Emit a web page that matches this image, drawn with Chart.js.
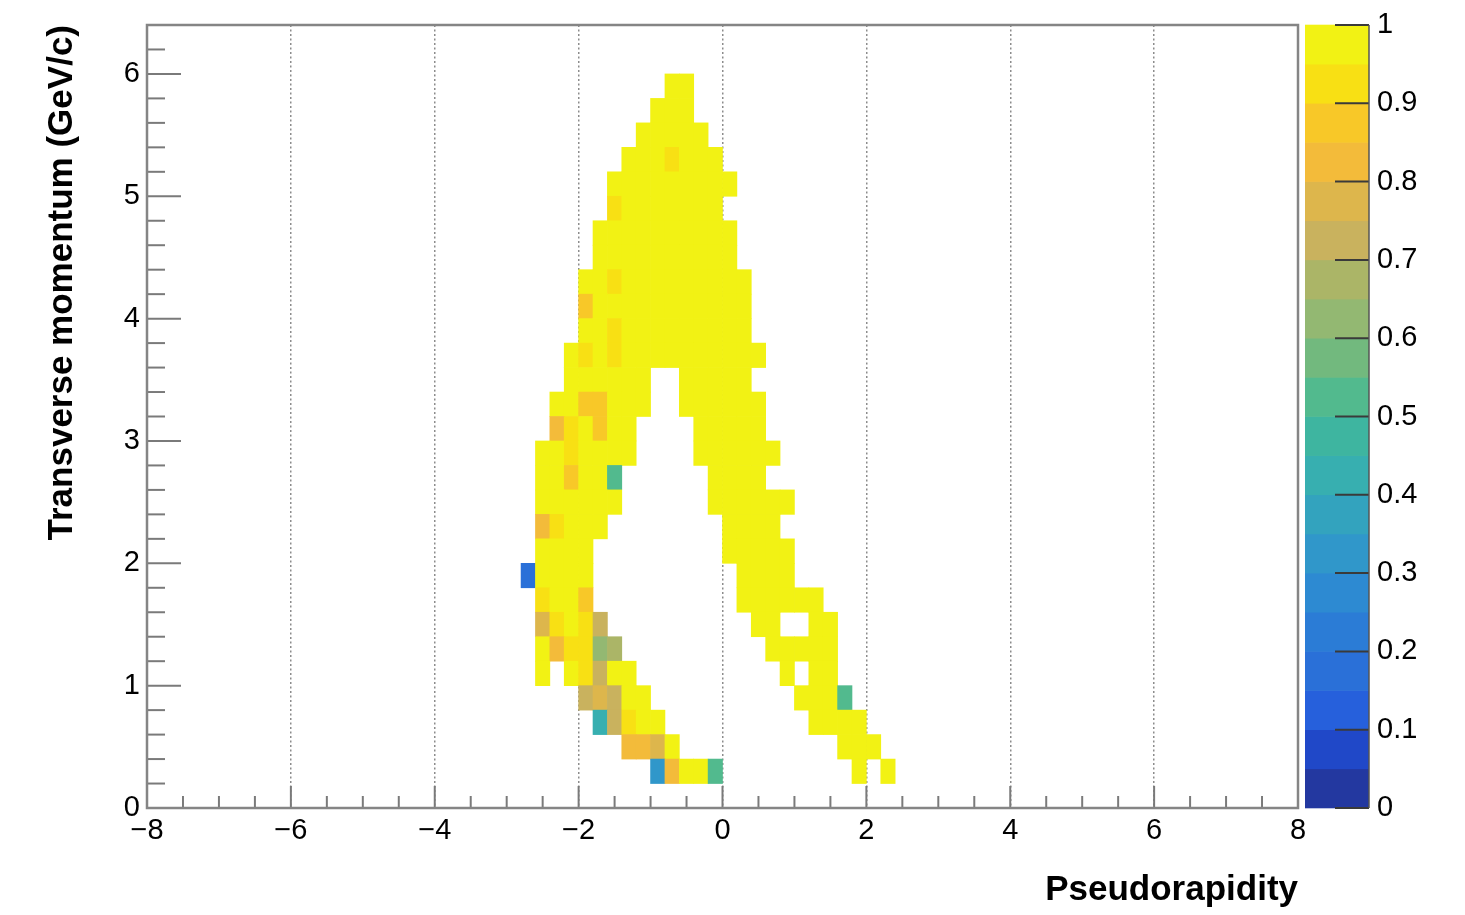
<!DOCTYPE html>
<html>
<head>
<meta charset="utf-8">
<title>Efficiency vs pseudorapidity and transverse momentum</title>
<script src="https://cdn.jsdelivr.net/npm/chart.js@4.4.1/dist/chart.umd.min.js"></script>
<style>
  html, body { margin: 0; padding: 0; background: #fff; }
  #wrap { position: relative; width: 1465px; height: 915px; }
</style>
</head>
<body>
<div id="wrap"><canvas id="effChart"></canvas></div>
<script>
const _ = null; // empty bin

// eta bin centres, 0.2 wide (-2.8 .. 2.4)
const etaCenters = [-2.7, -2.5, -2.3, -2.1, -1.9, -1.7, -1.5, -1.3, -1.1, -0.9, -0.7, -0.5, -0.3,
                    -0.1, 0.1, 0.3, 0.5, 0.7, 0.9, 1.1, 1.3, 1.5, 1.7, 1.9, 2.1, 2.3];

// lower pT edge of each row, rows are 0.2 GeV/c high
const ptLowEdges = [0.2, 0.4, 0.6, 0.8, 1.0, 1.2, 1.4, 1.6, 1.8, 2.0, 2.2, 2.4, 2.6, 2.8, 3.0,
                    3.2, 3.4, 3.6, 3.8, 4.0, 4.2, 4.4, 4.6, 4.8, 5.0, 5.2, 5.4, 5.6, 5.8];
const ptBinHeight = 0.2;

// efficiency per (pT row, eta column)
const efficiency = [
  [_,_,_,_,_,_,_,_,_,.32,.82,1,1,.52,_,_,_,_,_,_,_,_,_,1,_,1],        // 0.2
  [_,_,_,_,_,_,_,.82,.82,.77,1,_,_,_,_,_,_,_,_,_,_,_,1,1,1,_],        // 0.4
  [_,_,_,_,_,.42,.72,.93,1,1,_,_,_,_,_,_,_,_,_,_,1,1,1,1,_,_],        // 0.6
  [_,_,_,_,.72,.77,.72,1,1,_,_,_,_,_,_,_,_,_,_,1,1,1,.52,_,_,_],      // 0.8
  [_,1,_,1,.93,.72,1,1,_,_,_,_,_,_,_,_,_,_,1,_,1,1,_,_,_,_],          // 1.0
  [_,1,.82,.93,.93,.62,.67,_,_,_,_,_,_,_,_,_,_,1,1,1,1,1,_,_,_,_],    // 1.2
  [_,.77,.93,1,.93,.72,_,_,_,_,_,_,_,_,_,_,1,1,_,_,1,1,_,_,_,_],      // 1.4
  [_,.93,1,1,.87,_,_,_,_,_,_,_,_,_,_,1,1,1,1,1,1,_,_,_,_,_],          // 1.6
  [.17,1,1,1,1,_,_,_,_,_,_,_,_,_,_,1,1,1,1,_,_,_,_,_,_,_],            // 1.8
  [_,1,1,1,1,_,_,_,_,_,_,_,_,_,1,1,1,1,1,_,_,_,_,_,_,_],              // 2.0
  [_,.82,.93,1,1,1,_,_,_,_,_,_,_,_,1,1,1,1,_,_,_,_,_,_,_,_],          // 2.2
  [_,1,1,1,1,1,1,_,_,_,_,_,_,1,1,1,1,1,1,_,_,_,_,_,_,_],              // 2.4
  [_,1,1,.87,1,1,.52,_,_,_,_,_,_,1,1,1,1,_,_,_,_,_,_,_,_,_],          // 2.6
  [_,1,1,.93,1,1,1,1,_,_,_,_,1,1,1,1,1,1,_,_,_,_,_,_,_,_],            // 2.8
  [_,_,.82,.93,1,.87,1,1,_,_,_,_,1,1,1,1,1,_,_,_,_,_,_,_,_,_],        // 3.0
  [_,_,1,1,.87,.87,1,1,1,_,_,1,1,1,1,1,1,_,_,_,_,_,_,_,_,_],          // 3.2
  [_,_,_,1,1,1,1,1,1,_,_,1,1,1,1,1,_,_,_,_,_,_,_,_,_,_],              // 3.4
  [_,_,_,1,.93,1,.93,1,1,1,1,1,1,1,1,1,1,_,_,_,_,_,_,_,_,_],          // 3.6
  [_,_,_,_,1,1,.93,1,1,1,1,1,1,1,1,1,_,_,_,_,_,_,_,_,_,_],            // 3.8
  [_,_,_,_,.87,1,1,1,1,1,1,1,1,1,1,1,_,_,_,_,_,_,_,_,_,_],            // 4.0
  [_,_,_,_,1,1,.93,1,1,1,1,1,1,1,1,1,_,_,_,_,_,_,_,_,_,_],            // 4.2
  [_,_,_,_,_,1,1,1,1,1,1,1,1,1,1,_,_,_,_,_,_,_,_,_,_,_],              // 4.4
  [_,_,_,_,_,1,1,1,1,1,1,1,1,1,1,_,_,_,_,_,_,_,_,_,_,_],              // 4.6
  [_,_,_,_,_,_,.93,1,1,1,1,1,1,1,_,_,_,_,_,_,_,_,_,_,_,_],            // 4.8
  [_,_,_,_,_,_,1,1,1,1,1,1,1,1,1,_,_,_,_,_,_,_,_,_,_,_],              // 5.0
  [_,_,_,_,_,_,_,1,1,1,.93,1,1,1,_,_,_,_,_,_,_,_,_,_,_,_],            // 5.2
  [_,_,_,_,_,_,_,_,1,1,1,1,1,_,_,_,_,_,_,_,_,_,_,_,_,_],              // 5.4
  [_,_,_,_,_,_,_,_,_,1,1,1,_,_,_,_,_,_,_,_,_,_,_,_,_,_],              // 5.6
  [_,_,_,_,_,_,_,_,_,_,1,1,_,_,_,_,_,_,_,_,_,_,_,_,_,_]               // 5.8
];

/* =========================
   STYLE
========================= */

// 20 colour levels of the z axis (0 -> 1)
const palette = ['#2338a0', '#2048c8', '#2660dc', '#2a70d8', '#2b7cd6', '#2d8ad2', '#3097ca',
                 '#33a3be', '#37afb0', '#3eb5a0', '#52ba8e', '#72b97e', '#93b872', '#abb567',
                 '#c9b25e', '#ddb64c', '#f3bb3a', '#f8c828', '#f8e014', '#f2f214'];

const tickFont = { family: '"Liberation Sans", Arial, Helvetica, sans-serif', size: 29 };
const titleFont = { family: '"Liberation Sans", Arial, Helvetica, sans-serif', size: 35, weight: 'bold' };

function colorFor(v) {
  const i = Math.min(palette.length - 1, Math.max(0, Math.floor(v * palette.length + 1e-9)));
  return palette[i];
}

function isMultiple(v, step) {
  return Math.abs(v / step - Math.round(v / step)) < 1e-6;
}

function signed(v) {
  return (v < 0 ? '\u2212' : '') + Math.abs(v);
}

// fixed box sizes, no extra label overhang padding
function fixBox(size) {
  return s => {
    if (s.isHorizontal()) s.height = size; else s.width = size;
    s.paddingTop = 0;
    s.paddingBottom = 0;
    s.paddingLeft = 0;
    s.paddingRight = 0;
  };
}

/* =========================
   DATASETS (one per pT row)
========================= */

const datasets = ptLowEdges.map((lo, r) => {
  const cells = [];
  const colors = [];
  efficiency[r].forEach((v, c) => {
    if (v === _) return;
    cells.push({ x: etaCenters[c], y: [lo, +(lo + ptBinHeight).toFixed(1)] });
    colors.push(colorFor(v));
  });
  return {
    label: 'pT ' + lo,
    data: cells,
    backgroundColor: colors,
    borderWidth: 0,
    grouped: false,
    categoryPercentage: 1,
    barPercentage: 1,
    xAxisID: 'x',
    yAxisID: 'y'
  };
});

/* =========================
   FRAME, TICKS, COLOUR BAR
========================= */

const rootFrame = {
  id: 'rootFrame',
  afterDraw(chart) {
    const { ctx, chartArea: a, scales } = chart;
    const x = scales.x, y = scales.y, z = scales.eff;

    const line = (x1, y1, x2, y2) => {
      ctx.beginPath();
      ctx.moveTo(x1, y1);
      ctx.lineTo(x2, y2);
      ctx.stroke();
    };

    ctx.save();

    // ticks inside the frame
    ctx.strokeStyle = '#7a7a7a';
    ctx.lineWidth = 2;
    x.ticks.forEach(t => {
      const px = x.getPixelForValue(t.value);
      line(px, a.bottom, px, a.bottom - (isMultiple(t.value, 2) ? 22 : 12));
    });
    y.ticks.forEach(t => {
      if (t.value >= y.max - 1e-6) return;
      const py = y.getPixelForValue(t.value);
      line(a.left, py, a.left + (isMultiple(t.value, 1) ? 34 : 18), py);
    });

    // frame
    ctx.strokeStyle = '#858585';
    ctx.lineWidth = 2.5;
    ctx.strokeRect(a.left, a.top, a.right - a.left, a.bottom - a.top);

    // colour bar
    const barLeft = a.right + 7;
    const barRight = barLeft + 64;
    for (let i = 0; i < palette.length; i++) {
      const yTop = z.getPixelForValue((i + 1) / palette.length);
      const yBot = z.getPixelForValue(i / palette.length);
      ctx.fillStyle = palette[i];
      ctx.fillRect(barLeft, yTop - 0.3, barRight - barLeft, yBot - yTop + 0.6);
    }
    ctx.strokeStyle = '#3a3a3a';
    ctx.lineWidth = 2;
    z.ticks.forEach(t => {
      const py = z.getPixelForValue(t.value);
      line(barRight - 34, py, barRight, py);
    });
    ctx.strokeStyle = '#555';
    ctx.lineWidth = 1.5;
    line(barRight, a.top, barRight, a.bottom);

    ctx.restore();
  }
};

/* =========================
   CHART
========================= */

document.addEventListener('DOMContentLoaded', function () {
  const ctx = document.getElementById('effChart').getContext('2d');

  new Chart(ctx, {
    type: 'bar',
    data: { datasets },
    options: {
      responsive: true,
      maintainAspectRatio: false,
      animation: false,
      layout: { padding: { top: 25, right: 7, bottom: 0, left: 0 } },
      plugins: {
        legend: { display: false },
        tooltip: { enabled: false }
      },
      scales: {
        x: {
          type: 'linear',
          min: -8,
          max: 8,
          offset: false,
          z: 1,
          ticks: {
            stepSize: 0.5,
            autoSkip: false,
            maxRotation: 0,
            padding: 6,
            color: '#000',
            font: tickFont,
            callback: v => isMultiple(v, 2) ? signed(v) : ''
          },
          grid: {
            offset: false,
            drawTicks: false,
            lineWidth: 1.5,
            color: c => (c.tick && isMultiple(c.tick.value, 2) && Math.abs(c.tick.value) < 8)
              ? '#8c8c8c' : 'rgba(0,0,0,0)'
          },
          border: { display: false, dash: [2, 2.5] },
          title: {
            display: true,
            text: 'Pseudorapidity',
            align: 'end',
            color: '#000',
            font: titleFont,
            padding: { top: 0, bottom: 4 }
          },
          afterFit: fixBox(107)
        },
        y: {
          type: 'linear',
          min: 0,
          max: 6.4,
          ticks: {
            stepSize: 0.2,
            autoSkip: false,
            padding: 7,
            color: '#000',
            font: tickFont,
            callback: v => isMultiple(v, 1) ? String(Math.round(v)) : ''
          },
          grid: { display: false, drawTicks: false },
          border: { display: false },
          title: {
            display: true,
            text: 'Transverse momentum (GeV/c)',
            align: 'end',
            color: '#000',
            font: titleFont,
            padding: { top: 41, bottom: 0 }
          },
          afterFit: fixBox(147)
        },
        eff: {
          axis: 'y',
          type: 'linear',
          position: 'right',
          min: 0,
          max: 1,
          ticks: {
            stepSize: 0.1,
            autoSkip: false,
            padding: 79,
            color: '#000',
            font: tickFont,
            callback: v => String(Number(v.toFixed(1)))
          },
          grid: { display: false, drawTicks: false },
          border: { display: false },
          afterFit: fixBox(160)
        }
      }
    },
    plugins: [rootFrame]
  });
});
</script>
</body>
</html>
